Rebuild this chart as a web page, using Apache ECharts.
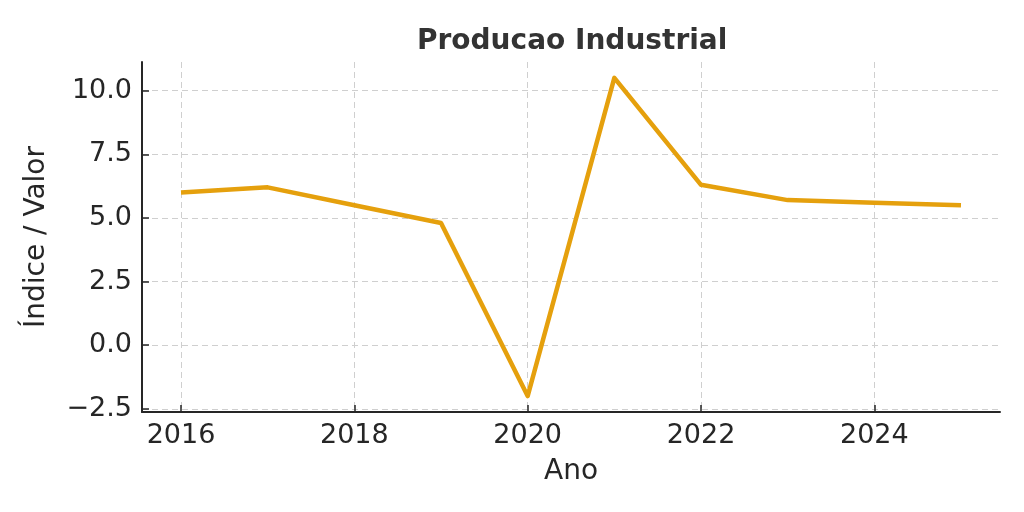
<!DOCTYPE html>
<html>
<head>
<meta charset="utf-8">
<script src="https://cdn.jsdelivr.net/npm/echarts@6/dist/echarts.min.js"></script>
<style>
html,body{margin:0;padding:0;background:#fff;}
#chart{width:1024px;height:512px;}
</style>
</head>
<body>
<div id="chart"></div>
<script>
const years = [2016, 2017, 2018, 2019, 2020, 2021, 2022, 2023, 2024, 2025];
const values = [6.0, 6.2, 5.5, 4.8, -2.0, 10.5, 6.3, 5.7, 5.6, 5.5];
const xTicks = [2016, 2018, 2020, 2022, 2024];
const yTicks = [-2.5, 0, 2.5, 5, 7.5, 10];

const FONT = 'DejaVu Sans';
const TXT = '#262626';

const chart = echarts.init(document.getElementById('chart'), null, {renderer: 'canvas'});
chart.setOption({
  animation: false,
  backgroundColor: '#ffffff',
  title: {
    text: 'Producao Industrial',
    left: 412,
    top: 23,
    textStyle: {fontFamily: FONT, fontWeight: 'bold', fontSize: 28, color: '#333333'}
  },
  grid: {left: 142, right: 24, top: 62, bottom: 100, containLabel: false},
  xAxis: {
    type: 'value',
    min: 2015.55,
    max: 2025.45,
    name: 'Ano',
    nameLocation: 'middle',
    nameGap: 46,
    nameTextStyle: {fontFamily: FONT, fontSize: 28, color: TXT},
    axisLine: {show: true, onZero: false, lineStyle: {color: TXT, width: 2}},
    axisTick: {show: true, inside: true, length: 7, customValues: xTicks, lineStyle: {color: TXT, width: 1.5}},
    axisLabel: {customValues: xTicks, fontFamily: FONT, fontSize: 27, color: TXT, margin: 10,
      formatter: v => String(v)},
    splitLine: {show: true, lineStyle: {color: '#cfcfcf', type: [6, 4], width: 1}}
  },
  yAxis: {
    type: 'value',
    min: -2.625,
    max: 11.125,
    name: 'Índice / Valor',
    nameLocation: 'middle',
    nameGap: 91,
    nameTextStyle: {fontFamily: FONT, fontSize: 28, color: TXT},
    axisLine: {show: true, onZero: false, lineStyle: {color: TXT, width: 2}},
    axisTick: {show: true, inside: true, length: 7, customValues: yTicks, lineStyle: {color: TXT, width: 1.5}},
    axisLabel: {customValues: yTicks, fontFamily: FONT, fontSize: 27, color: TXT, margin: 10,
      formatter: v => (v < 0 ? '\u2212' + Math.abs(v).toFixed(1) : v.toFixed(1))},
    splitLine: {show: true, lineStyle: {color: '#cfcfcf', type: [6, 4], width: 1}}
  },
  series: [{
    type: 'line',
    data: years.map((y, i) => [y, values[i]]),
    showSymbol: false,
    symbol: 'none',
    lineStyle: {color: '#E5A00D', width: 4.5, join: 'round'},
    z: 3
  }]
});
</script>
</body>
</html>
